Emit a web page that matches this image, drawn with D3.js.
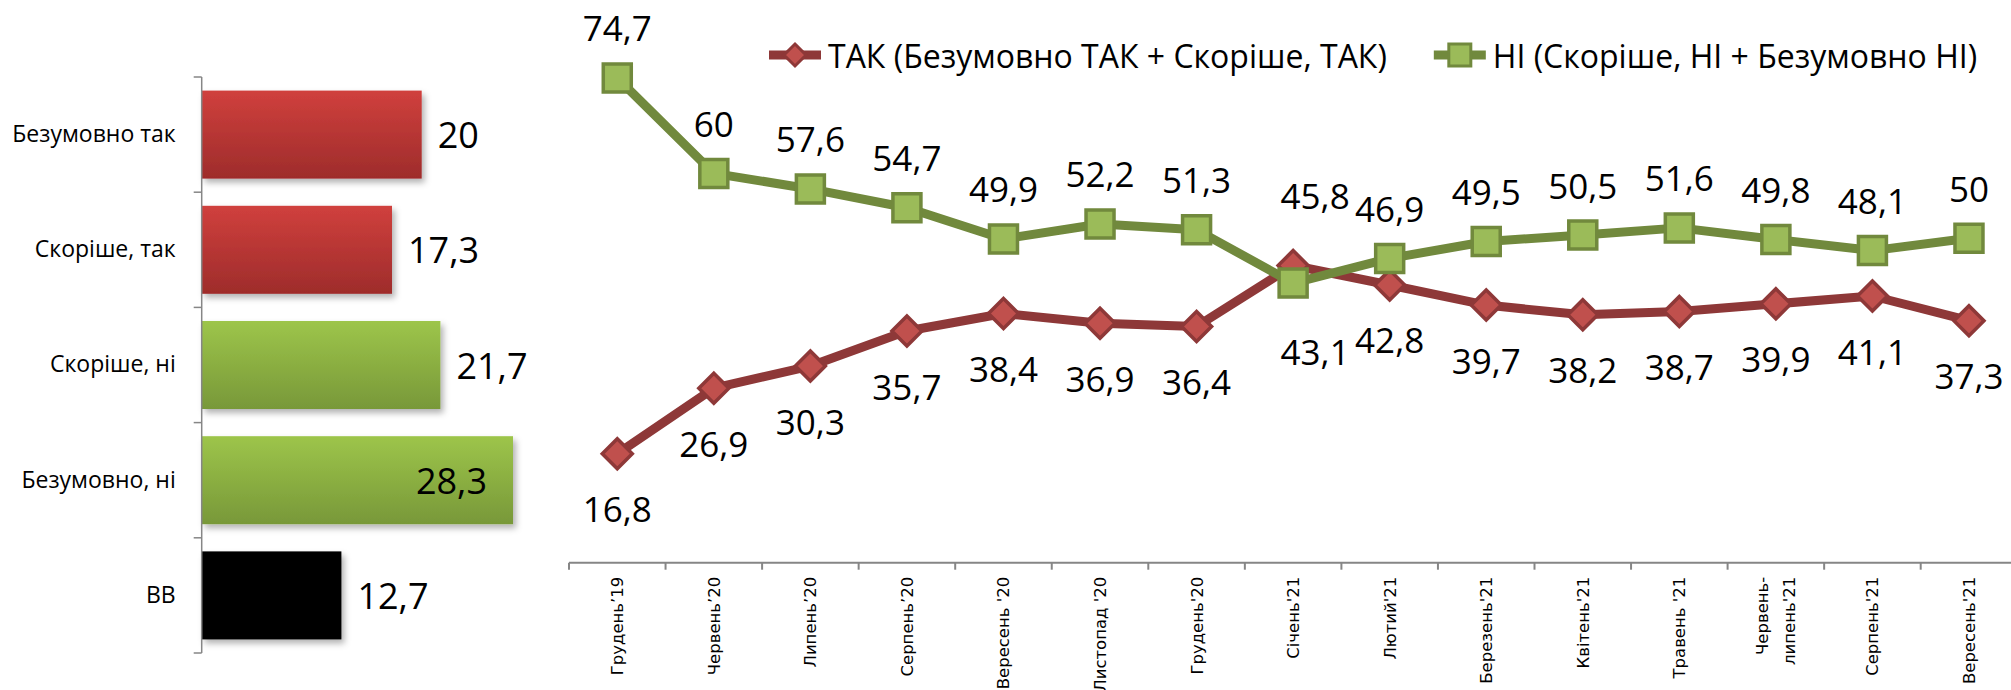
<!DOCTYPE html>
<html>
<head>
<meta charset="utf-8">
<script src="https://cdn.jsdelivr.net/npm/d3@7"></script>
<style>
  html, body { margin: 0; padding: 0; background: #fff; }
  svg { display: block; }
</style>
</head>
<body>
<svg id="chart" width="2011" height="690"></svg>
<script>
// Left bar chart data
let barCategories = [ 'Безумовно так', 'Скоріше, так', 'Скоріше, ні', 'Безумовно, ні', 'ВВ' ],
    barValues     = [ 20, 17.3, 21.7, 28.3, 12.7 ],
    barGroups     = [ 'tak', 'tak', 'ni', 'ni', 'vv' ];

// Line chart data
let months    = [ 'Грудень’19', 'Червень’20', 'Липень’20', 'Серпень’20', 'Вересень \'20', 'Листопад \'20', 'Грудень\'20',
                  'Січень\'21', 'Лютий\'21', 'Березень\'21', 'Квітень\'21', 'Травень \'21', 'Червень-\nлипень\'21',
                  'Серпень\'21', 'Вересень\'21' ],
    takValues = [ 16.8, 26.9, 30.3, 35.7, 38.4, 36.9, 36.4, 45.8, 42.8, 39.7, 38.2, 38.7, 39.9, 41.1, 37.3 ],
    niValues  = [ 74.7, 60, 57.6, 54.7, 49.9, 52.2, 51.3, 43.1, 46.9, 49.5, 50.5, 51.6, 49.8, 48.1, 50 ],
    legendNames = [ 'ТАК (Безумовно ТАК + Скоріше, ТАК)', 'НІ (Скоріше, НІ + Безумовно НІ)' ];

let svg      = d3.select('#chart'),
    numFont  = '"Open Sans", "Noto Sans", sans-serif',
    fmt      = (v) => String(v).replace('.', ',');

svg.append('rect').attr('width', 2011).attr('height', 690).attr('fill', '#fff');

let defs = svg.append('defs');

// Bar gradients
let addGradient = (id, top, bottom) => {
  let g = defs.append('linearGradient').attr('id', id).attr('x1', 0).attr('y1', 0).attr('x2', 0).attr('y2', 1);
  g.append('stop').attr('offset', '0%').attr('stop-color', top);
  g.append('stop').attr('offset', '100%').attr('stop-color', bottom);
};
addGradient('grad-tak', '#d0403d', '#9e2c2b');
addGradient('grad-ni', '#9dc54a', '#789839');

let shadow = defs.append('filter').attr('id', 'shadow').attr('x', '-10%').attr('y', '-10%').attr('width', '130%').attr('height', '140%');
shadow.append('feDropShadow').attr('dx', 3).attr('dy', 4).attr('stdDeviation', 3)
    .attr('flood-color', '#000').attr('flood-opacity', 0.3);

let barFill = { tak: 'url(#grad-tak)', ni: 'url(#grad-ni)', vv: '#000' };

/**
 * Horizontal bar chart on the left
 */
let xBar = d3.scaleLinear().domain([ 0, 30 ]).range([ 201.7, 531.7 ]),
    yBar = d3.scaleBand().domain(barCategories).range([ 77, 653 ]).paddingInner(0.236).paddingOuter(0.118);

let barG = svg.append('g').attr('class', 'bar-chart');

barG.selectAll('rect.bar')
    .data(barValues)
    .enter()
    .append('rect')
    .attr('class', 'bar')
    .attr('x', xBar(0))
    .attr('y', (d, i) => yBar(barCategories[ i ]))
    .attr('width', (d) => xBar(d) - xBar(0))
    .attr('height', yBar.bandwidth())
    .attr('fill', (d, i) => barFill[ barGroups[ i ] ])
    .attr('filter', 'url(#shadow)');

// Axis with category labels, boundary ticks drawn separately
let barAxis = barG.append('g')
    .attr('transform', 'translate(' + xBar(0) + ',0)')
    .call(d3.axisLeft(yBar).tickSize(0).tickPadding(26));
barAxis.select('.domain').remove();
barAxis.selectAll('text')
    .attr('font-family', numFont)
    .attr('font-size', 23)
    .attr('fill', '#000');

let yr = yBar.range();
barG.append('line')
    .attr('x1', xBar(0)).attr('x2', xBar(0))
    .attr('y1', yr[ 0 ]).attr('y2', yr[ 1 ])
    .attr('stroke', '#868686').attr('stroke-width', 1.5);
barG.selectAll('line.btick')
    .data(d3.range(barCategories.length + 1))
    .enter()
    .append('line')
    .attr('class', 'btick')
    .attr('x1', xBar(0) - 8).attr('x2', xBar(0))
    .attr('y1', (i) => yr[ 0 ] + i * yBar.step())
    .attr('y2', (i) => yr[ 0 ] + i * yBar.step())
    .attr('stroke', '#868686').attr('stroke-width', 1.5);

// Value labels: outside end, moved inside if they would leave the plot
barG.selectAll('text.val')
    .data(barValues)
    .enter()
    .append('text')
    .attr('class', 'val')
    .attr('font-family', numFont)
    .attr('font-size', 36)
    .attr('fill', '#000')
    .attr('dominant-baseline', 'central')
    .attr('y', (d, i) => yBar(barCategories[ i ]) + yBar.bandwidth() / 2)
    .text(fmt)
    .each(function (d) {
      let w = this.getComputedTextLength(),
          x = xBar(d) + 16;
      if (x + w > 548) {
        d3.select(this).attr('x', xBar(d) - 26).attr('text-anchor', 'end');
      } else {
        d3.select(this).attr('x', x);
      }
    });

/**
 * Line chart on the right
 */
let xLine = d3.scaleBand().domain(months).range([ 569, 569 + 15 * 96.55 ]).padding(0),
    yLine = d3.scaleLinear().domain([ 0, 80 ]).range([ 562.7, 43.6 ]),
    cx    = (i) => xLine(months[ i ]) + xLine.bandwidth() / 2;

let lineG = svg.append('g').attr('class', 'line-chart');

// Category axis
let xr = xLine.range();
lineG.append('line')
    .attr('x1', xr[ 0 ]).attr('x2', 2011)
    .attr('y1', yLine(0)).attr('y2', yLine(0))
    .attr('stroke', '#868686').attr('stroke-width', 2);
lineG.selectAll('line.ltick')
    .data(d3.range(months.length + 1))
    .enter()
    .append('line')
    .attr('class', 'ltick')
    .attr('x1', (i) => xr[ 0 ] + i * xLine.step())
    .attr('x2', (i) => xr[ 0 ] + i * xLine.step())
    .attr('y1', yLine(0)).attr('y2', yLine(0) + 7)
    .attr('stroke', '#868686').attr('stroke-width', 2);

let catLabels = lineG.selectAll('g.cat')
    .data(months)
    .enter()
    .append('g')
    .attr('class', 'cat')
    .attr('transform', (d, i) => 'translate(' + cx(i) + ',' + (yLine(0) + 14) + ') rotate(-90)');
catLabels.each(function (d) {
  let lines = d.split('\n'),
      t     = d3.select(this).append('text')
          .attr('font-family', '"DejaVu Sans", Verdana, sans-serif')
          .attr('font-size', 16.5)
          .attr('fill', '#000')
          .attr('text-anchor', 'end')
          .attr('dominant-baseline', 'central');
  lines.forEach((l, k) => {
    t.append('tspan').attr('x', 0).attr('y', (k - (lines.length - 1) / 2) * 27).text(l);
  });
});

// Diamond and square markers
let diamond = (s) => 'M0,' + (-s) + 'L' + s + ',0L0,' + s + 'L' + (-s) + ',0Z',
    square  = (s) => 'M' + (-s) + ',' + (-s) + 'H' + s + 'V' + s + 'H' + (-s) + 'Z';

let series = [
  { name: legendNames[ 0 ], values: takValues, line: '#8e3838', fill: '#c0504d', marker: diamond, size: 15 },
  { name: legendNames[ 1 ], values: niValues, line: '#71893d', fill: '#9bbb59', marker: square, size: 14 }
];

let lineGen = d3.line().x((d, i) => cx(i)).y((d) => yLine(d));

series.forEach((s) => {
  let g = lineG.append('g');
  g.append('path')
      .attr('d', lineGen(s.values))
      .attr('fill', 'none')
      .attr('stroke', s.line)
      .attr('stroke-width', 9)
      .attr('stroke-linejoin', 'round');
  g.selectAll('path.mk')
      .data(s.values)
      .enter()
      .append('path')
      .attr('class', 'mk')
      .attr('transform', (d, i) => 'translate(' + cx(i) + ',' + yLine(d) + ')')
      .attr('d', s.marker(s.size))
      .attr('fill', s.fill)
      .attr('stroke', s.line)
      .attr('stroke-width', 3.5);
});

// Data labels: НІ above, ТАК below; where the lines cross the higher value goes on top
let labelG = lineG.append('g');
months.forEach((m, i) => {
  let t = takValues[ i ], n = niValues[ i ],
      crossed = t > n,
      place = [
        { v: t, y: crossed ? yLine(t) - 70 : yLine(t) + 55, dx: crossed ? 22 : 0 },
        { v: n, y: crossed ? yLine(n) + 68 : yLine(n) - 50, dx: crossed ? 22 : 0 }
      ];
  place.forEach((p) => {
    labelG.append('text')
        .attr('x', cx(i) + p.dx)
        .attr('y', p.y)
        .attr('text-anchor', 'middle')
        .attr('dominant-baseline', 'central')
        .attr('font-family', numFont)
        .attr('font-size', 35)
        .attr('fill', '#000')
        .text(fmt(p.v));
  });
});

// Legend
let legG = svg.append('g').attr('class', 'legend'),
    legX = 769,
    legY = 55;
series.forEach((s) => {
  let g = legG.append('g').attr('transform', 'translate(' + legX + ',' + legY + ')');
  g.append('line').attr('x1', 0).attr('x2', 52).attr('y1', 0).attr('y2', 0)
      .attr('stroke', s.line).attr('stroke-width', 9);
  g.append('path').attr('transform', 'translate(26,0)').attr('d', s.marker(11))
      .attr('fill', s.fill).attr('stroke', s.line).attr('stroke-width', 3);
  let txt = g.append('text')
      .attr('x', 59).attr('y', 0)
      .attr('dominant-baseline', 'central')
      .attr('font-family', numFont)
      .attr('font-size', 32)
      .attr('fill', '#000')
      .text(s.name);
  legX += 59 + txt.node().getComputedTextLength() + 47;
});
</script>
</body>
</html>
